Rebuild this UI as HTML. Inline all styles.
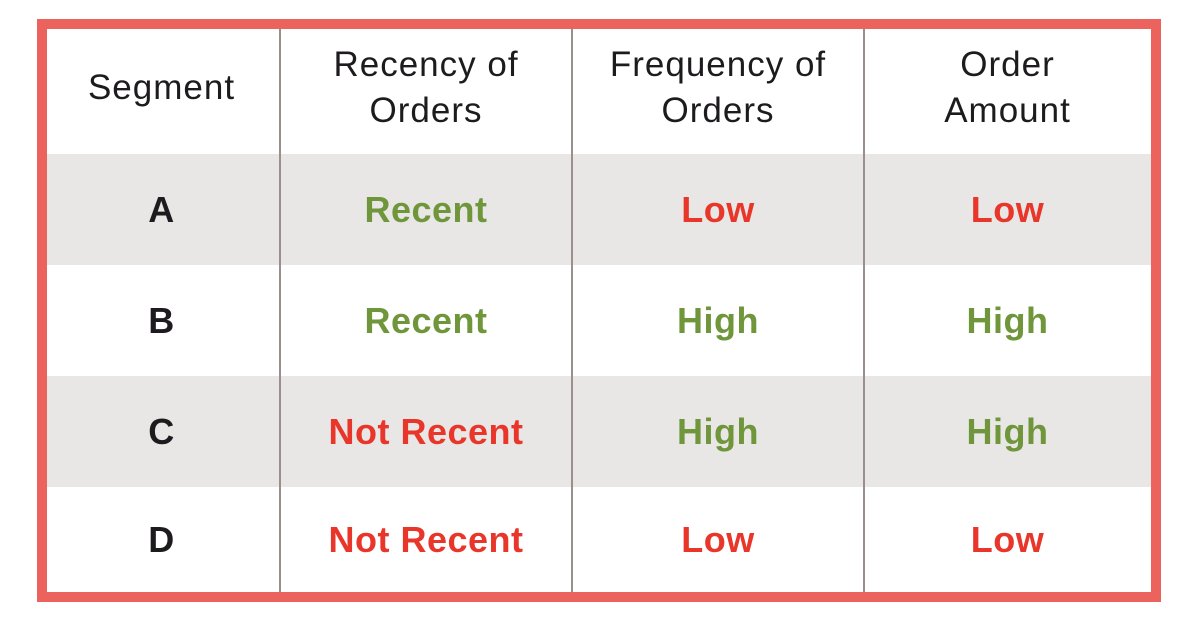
<!DOCTYPE html>
<html><head><meta charset="utf-8"><style>
body{margin:0;width:1194px;height:628px;background:#fff;position:relative;font-family:"Liberation Sans",sans-serif;overflow:hidden}
#frame{position:absolute;left:37px;top:19px;width:1104px;height:563px;border:10px solid #ec625d}
.row{position:absolute;left:0;width:1104px}
.cell{position:absolute;top:0;height:100%;display:flex;align-items:center;justify-content:center;text-align:center}
.h{font-size:35px;letter-spacing:1px;color:#1d1b1e;line-height:46px;padding-bottom:8px;box-sizing:border-box}
.v{font-size:36px;font-weight:bold;letter-spacing:0.5px}
.g{color:#6f963a}.r{color:#e8372a}.k{color:#1d1b1e}
.div{position:absolute;top:0;width:2px;height:563px;background:#9a8f8c}
</style></head><body>
<div id="frame">
<div class="row" style="top:0;height:125px">
<div class="cell h" style="left:0;width:229px">Segment</div>
<div class="cell h" style="left:233px;width:292px">Recency of<br>Orders</div>
<div class="cell h" style="left:525px;width:292px">Frequency of<br>Orders</div>
<div class="cell h" style="left:817px;width:287px">Order<br>Amount</div>
</div>
<div class="row" style="top:125px;height:111px;background:#e8e7e5">
<div class="cell v k" style="left:0;width:229px">A</div>
<div class="cell v g" style="left:233px;width:292px">Recent</div>
<div class="cell v r" style="left:525px;width:292px">Low</div>
<div class="cell v r" style="left:817px;width:287px">Low</div>
</div>
<div class="row" style="top:236px;height:111px">
<div class="cell v k" style="left:0;width:229px">B</div>
<div class="cell v g" style="left:233px;width:292px">Recent</div>
<div class="cell v g" style="left:525px;width:292px">High</div>
<div class="cell v g" style="left:817px;width:287px">High</div>
</div>
<div class="row" style="top:347px;height:111px;background:#e8e7e5">
<div class="cell v k" style="left:0;width:229px">C</div>
<div class="cell v r" style="left:233px;width:292px">Not Recent</div>
<div class="cell v g" style="left:525px;width:292px">High</div>
<div class="cell v g" style="left:817px;width:287px">High</div>
</div>
<div class="row" style="top:458px;height:105px">
<div class="cell v k" style="left:0;width:229px">D</div>
<div class="cell v r" style="left:233px;width:292px">Not Recent</div>
<div class="cell v r" style="left:525px;width:292px">Low</div>
<div class="cell v r" style="left:817px;width:287px">Low</div>
</div>
<div class="div" style="left:232px"></div>
<div class="div" style="left:524px"></div>
<div class="div" style="left:816px"></div>
</div>
</body></html>
